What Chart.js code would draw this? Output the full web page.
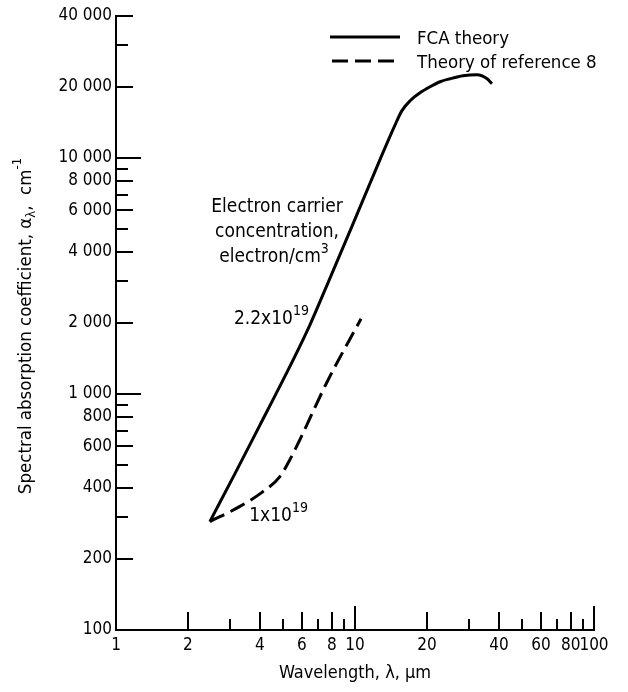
<!DOCTYPE html>
<html>
<head>
<meta charset="utf-8">
<script src="https://cdn.jsdelivr.net/npm/chart.js@4.4.0/dist/chart.umd.min.js"></script>
<style>
  html, body { margin: 0; padding: 0; background: #fff; }
</style>
</head>
<body>
<canvas id="chart" width="628" height="692"></canvas>
<script>
// FCA theory, 2.2x10^19 electron/cm3 (solid)
const fcaWavelength = [2.47, 3.15, 4.0, 5.1, 6.48, 7.94, 9.71, 12.8, 14.7, 15.7, 17.0, 18.7, 20.6, 22.7, 25.0, 28.3, 32.4, 35.7, 37.4];
const fcaAbsorption = [288, 461, 738, 1193, 1966, 3178, 5137, 10000, 13800, 15850, 17490, 18900, 20050, 21060, 21690, 22340, 22550, 21690, 20650];
// theory of reference 8, 1x10^19 electron/cm3 (dashed)
const refWavelength = [2.47, 3.3, 4.08, 4.86, 5.35, 5.89, 7.64, 10.6];
const refAbsorption = [288, 334, 383, 448, 529, 643, 1125, 2085];

const seriesNames = ['FCA theory', 'Theory of reference 8'];
const xTickLabels = [1, 2, 4, 6, 8, 10, 20, 40, 60, 80, 100];
const xMinorTicks = [3, 5, 7, 9, 30, 50, 70, 90];
const yTickLabels = [100, 200, 400, 600, 800, 1000, 2000, 4000, 6000, 8000, 10000, 20000, 40000];
const yMinorTicks = [300, 500, 700, 900, 3000, 5000, 7000, 9000, 30000];

const chartFont = '"DejaVu Sans Condensed", "Liberation Sans Narrow", sans-serif';

function spaced(v) {
    return String(v).replace(/\B(?=(\d{3})+(?!\d))/g, ' ');
}

// draws text made of pieces with different sizes / raised or lowered parts
function drawRich(ctx, parts, x, y, align) {
    let total = 0;
    parts.forEach(p => {
        ctx.font = p.size + 'px ' + chartFont;
        p.w = ctx.measureText(p.text).width;
        total += p.w;
    });
    let cx = x;
    if (align === 'center') cx = x - total / 2;
    if (align === 'right') cx = x - total;
    ctx.textAlign = 'left';
    ctx.textBaseline = 'alphabetic';
    parts.forEach(p => {
        ctx.font = p.size + 'px ' + chartFont;
        ctx.fillText(p.text, cx, y - (p.rise || 0));
        cx += p.w;
    });
}

const tickMarks = {
    id: 'tickMarks',
    afterDraw(chart) {
        const {ctx, chartArea, scales: {x, y}} = chart;
        ctx.save();
        ctx.strokeStyle = '#000';
        ctx.lineWidth = 2;
        yTickLabels.concat(yMinorTicks).forEach(v => {
            if (v === 100) return;
            const len = (v === 1000 || v === 10000) ? 25 : yTickLabels.includes(v) ? 17 : 12;
            const py = Math.round(y.getPixelForValue(v));
            ctx.beginPath();
            ctx.moveTo(chartArea.left, py);
            ctx.lineTo(chartArea.left + len, py);
            ctx.stroke();
        });
        xTickLabels.concat(xMinorTicks).forEach(v => {
            if (v === 1) return;
            const len = (v === 10 || v === 100) ? 24 : xTickLabels.includes(v) ? 18 : 11;
            const px = Math.round(x.getPixelForValue(v));
            ctx.beginPath();
            ctx.moveTo(px, chartArea.bottom);
            ctx.lineTo(px, chartArea.bottom - len);
            ctx.stroke();
        });
        ctx.restore();
    }
};

const notes = {
    id: 'notes',
    afterDraw(chart) {
        const ctx = chart.ctx;
        ctx.save();
        ctx.fillStyle = '#000';

        // legend in the upper right
        chart.data.datasets.forEach((ds, i) => {
            const ly = 37 + i * 24;
            ctx.strokeStyle = ds.borderColor;
            ctx.lineWidth = ds.borderWidth;
            ctx.setLineDash(ds.borderDash || []);
            ctx.beginPath();
            ctx.moveTo(ds.borderDash ? 332 : 330, ly);
            ctx.lineTo(400, ly);
            ctx.stroke();
            ctx.setLineDash([]);
            drawRich(ctx, [{text: ds.label, size: 18.5}], 417, ly + 7, 'left');
        });

        // curve annotations
        drawRich(ctx, [{text: 'Electron carrier', size: 19}], 277, 212, 'center');
        drawRich(ctx, [{text: 'concentration,', size: 19}], 277, 237, 'center');
        drawRich(ctx, [{text: 'electron/cm', size: 19}, {text: '3', size: 14, rise: 9}], 274, 262, 'center');
        drawRich(ctx, [{text: '2.2x10', size: 19}, {text: '19', size: 14, rise: 9}], 309, 324, 'right');
        drawRich(ctx, [{text: '1x10', size: 19}, {text: '19', size: 14, rise: 9}], 308, 521, 'right');

        // rotated y axis title
        ctx.translate(31, 326);
        ctx.rotate(-Math.PI / 2);
        drawRich(ctx, [
            {text: 'Spectral absorption coefficient, \u03b1', size: 18.5},
            {text: '\u03bb', size: 13, rise: -4},
            {text: ',  cm', size: 18.5},
            {text: '-1', size: 13, rise: 10}
        ], 0, 0, 'center');
        ctx.restore();
    }
};

new Chart(document.getElementById('chart'), {
    type: 'line',
    data: {
        datasets: [{
            label: seriesNames[0],
            data: fcaWavelength.map((w, i) => ({x: w, y: fcaAbsorption[i]})),
            borderColor: '#000',
            borderWidth: 3,
            pointRadius: 0,
            cubicInterpolationMode: 'monotone',
            fill: false
        }, {
            label: seriesNames[1],
            data: refWavelength.map((w, i) => ({x: w, y: refAbsorption[i]})),
            borderColor: '#000',
            borderWidth: 3,
            borderDash: [16, 7],
            pointRadius: 0,
            cubicInterpolationMode: 'monotone',
            fill: false
        }]
    },
    options: {
        responsive: false,
        animation: false,
        layout: {
            padding: {top: 16, right: 34, left: 0, bottom: 0}
        },
        plugins: {
            legend: {display: false},
            tooltip: {enabled: false}
        },
        scales: {
            x: {
                type: 'logarithmic',
                min: 1,
                max: 100,
                grid: {display: false, drawTicks: false},
                border: {display: true, color: '#000', width: 2},
                afterBuildTicks: s => { s.ticks = xTickLabels.map(v => ({value: v})); },
                afterFit: s => { s.height = 62; },
                ticks: {
                    autoSkip: false,
                    maxRotation: 0,
                    padding: 5,
                    color: '#000',
                    font: {family: chartFont, size: 17},
                    callback: v => spaced(v)
                },
                title: {
                    display: true,
                    text: 'Wavelength, \u03bb, \u03bcm',
                    color: '#000',
                    font: {family: chartFont, size: 18},
                    padding: {top: 4, bottom: 8}
                }
            },
            y: {
                type: 'logarithmic',
                min: 100,
                max: 40000,
                grid: {display: false, drawTicks: false},
                border: {display: true, color: '#000', width: 2},
                afterBuildTicks: s => { s.ticks = yTickLabels.map(v => ({value: v})); },
                afterFit: s => { s.width = 116; },
                ticks: {
                    autoSkip: false,
                    padding: 4,
                    color: '#000',
                    font: {family: chartFont, size: 17},
                    callback: v => spaced(v)
                }
            }
        }
    },
    plugins: [tickMarks, notes]
});
</script>
</body>
</html>
